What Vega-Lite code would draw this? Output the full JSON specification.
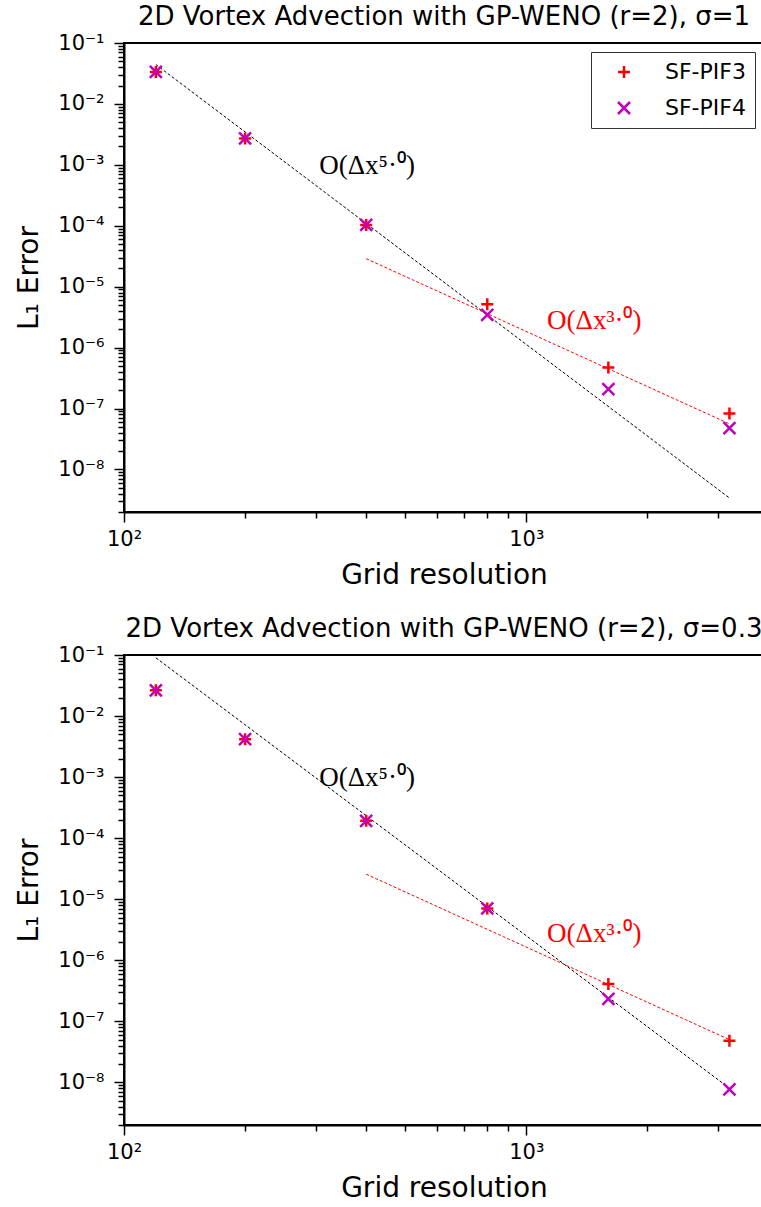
{
  "$schema": "https://vega.github.io/schema/vega-lite/v6.json",
  "background": "white",
  "padding": {"left": 14, "top": 3, "right": 0, "bottom": 0},
  "spacing": 143,
  "bounds": "flush",
  "config": {
    "view": {"stroke": "black", "strokeWidth": 2},
    "axis": {
      "grid": false,
      "domainColor": "black",
      "domainWidth": 2,
      "tickColor": "black",
      "tickWidth": 1.5,
      "labelColor": "black",
      "labelFont": "DejaVu Sans",
      "labelFontSize": 21,
      "titleFont": "DejaVu Sans",
      "titleFontSize": 28,
      "titleFontWeight": "normal",
      "titleColor": "black",
      "labelFlush": false,
      "labelOverlap": false
    },
    "title": {"font": "DejaVu Sans", "fontSize": 26, "fontWeight": "normal", "color": "black", "offset": 2, "anchor": "middle"},
    "legend": {
      "orient": "top-right",
      "offset": 9,
      "strokeColor": "#333333",
      "fillColor": "white",
      "padding": 9,
      "cornerRadius": 0,
      "labelFont": "DejaVu Sans",
      "labelFontSize": 22,
      "labelColor": "black",
      "symbolSize": 144,
      "symbolStrokeWidth": 2.5,
      "symbolOffset": 13,
      "labelOffset": 30,
      "rowPadding": 14
    }
  },
  "vconcat": [
    {
      "width": 640,
      "height": 469,
      "title": {"text": "2D Vortex Advection with GP-WENO (r=2), σ=1"},
      "resolve": {"axis": {"x": "independent", "y": "independent"}},
      "layer": [
        {"data": {"values": [{"x": 120, "y": 0.0443}, {"x": 3200, "y": 3.4e-9}]},
          "mark": {"type": "line", "color": "black", "strokeWidth": 1, "strokeDash": [3, 2]},
          "encoding": {
            "x": {"field": "x", "type": "quantitative", "title": "Grid resolution",
              "scale": {"type": "log", "domain": [100, 3900], "nice": false},
              "axis": {"orient": "bottom", "values": [100, 1000], "tickSize": 10, "labelPadding": 6, "titlePadding": 12,
                "labelExpr": "'10' + ['⁰','¹','²','³','⁴','⁵','⁶','⁷','⁸','⁹'][round(log(datum.value)/LN10)]"}},
            "y": {"field": "y", "type": "quantitative", "title": "L₁ Error",
              "scale": {"type": "log", "domain": [2e-9, 0.1], "nice": false},
              "axis": {"orient": "left", "values": [1e-8, 1e-7, 1e-6, 1e-5, 1e-4, 1e-3, 1e-2, 1e-1], "tickSize": 10, "labelPadding": 10, "titlePadding": 14,
                "labelExpr": "'10⁻' + ['⁰','¹','²','³','⁴','⁵','⁶','⁷','⁸','⁹'][abs(round(log(datum.value)/LN10))]"}}
          }},
        {"data": {"values": [{"x": 400, "y": 2.88e-5}, {"x": 3200, "y": 5.6e-8}]},
          "mark": {"type": "line", "color": "#ff0000", "strokeWidth": 1, "strokeDash": [3, 2]},
          "encoding": {
            "x": {"field": "x", "type": "quantitative", "axis": null},
            "y": {"field": "y", "type": "quantitative", "axis": null}
          }},
        {"data": {"values": [
            {"series": "SF-PIF3", "x": 120, "y": 0.0335},
            {"series": "SF-PIF3", "x": 200, "y": 0.00271},
            {"series": "SF-PIF3", "x": 400, "y": 0.000103},
            {"series": "SF-PIF3", "x": 800, "y": 5.14e-6},
            {"series": "SF-PIF3", "x": 1600, "y": 4.7e-7},
            {"series": "SF-PIF3", "x": 3200, "y": 8.28e-8},
            {"series": "SF-PIF4", "x": 120, "y": 0.0335},
            {"series": "SF-PIF4", "x": 200, "y": 0.00271},
            {"series": "SF-PIF4", "x": 400, "y": 0.000103},
            {"series": "SF-PIF4", "x": 800, "y": 3.44e-6},
            {"series": "SF-PIF4", "x": 1600, "y": 2.08e-7},
            {"series": "SF-PIF4", "x": 3200, "y": 4.77e-8}
          ]},
          "mark": {"type": "point", "filled": false, "strokeWidth": 2.5, "size": 144, "opacity": 1},
          "encoding": {
            "x": {"field": "x", "type": "quantitative", "title": null,
              "axis": {"orient": "bottom", "values": [200, 300, 400, 500, 600, 700, 800, 900, 2000, 3000], "tickSize": 6, "labels": false, "domain": false}},
            "y": {"field": "y", "type": "quantitative", "title": null,
              "axis": {"orient": "left", "values": [2e-9,3e-9,4e-9,5e-9,6e-9,7e-9,8e-9,9e-9,2e-8,3e-8,4e-8,5e-8,6e-8,7e-8,8e-8,9e-8,2e-7,3e-7,4e-7,5e-7,6e-7,7e-7,8e-7,9e-7,2e-6,3e-6,4e-6,5e-6,6e-6,7e-6,8e-6,9e-6,2e-5,3e-5,4e-5,5e-5,6e-5,7e-5,8e-5,9e-5,2e-4,3e-4,4e-4,5e-4,6e-4,7e-4,8e-4,9e-4,2e-3,3e-3,4e-3,5e-3,6e-3,7e-3,8e-3,9e-3,2e-2,3e-2,4e-2,5e-2,6e-2,7e-2,8e-2,9e-2], "tickSize": 6, "labels": false, "domain": false}},
            "color": {"field": "series", "type": "nominal", "scale": {"domain": ["SF-PIF3", "SF-PIF4"], "range": ["#ff0000", "#bf00bf"]}, "legend": {"title": null}},
            "shape": {"field": "series", "type": "nominal", "scale": {"domain": ["SF-PIF3", "SF-PIF4"], "range": ["M-1,0L1,0M0,-1L0,1", "M-1,-1L1,1M-1,1L1,-1"]}, "legend": {"title": null}}
          }},
        {"data": {"values": [{"x": 402, "y": 0.00095, "label": "O(Δx⁵·⁰)"}]},
          "mark": {"type": "text", "font": "Liberation Serif", "fontSize": 27, "color": "black", "align": "center", "baseline": "middle"},
          "encoding": {
            "x": {"field": "x", "type": "quantitative", "axis": null},
            "y": {"field": "y", "type": "quantitative", "axis": null},
            "text": {"field": "label"}}},
        {"data": {"values": [{"x": 1476, "y": 2.74e-6, "label": "O(Δx³·⁰)"}]},
          "mark": {"type": "text", "font": "Liberation Serif", "fontSize": 27, "color": "#ff0000", "align": "center", "baseline": "middle"},
          "encoding": {
            "x": {"field": "x", "type": "quantitative", "axis": null},
            "y": {"field": "y", "type": "quantitative", "axis": null},
            "text": {"field": "label"}}}
      ]
    },
    {
      "width": 640,
      "height": 470,
      "title": {"text": "2D Vortex Advection with GP-WENO (r=2), σ=0.3"},
      "resolve": {"axis": {"x": "independent", "y": "independent"}},
      "layer": [
        {"data": {"values": [{"x": 120, "y": 0.09}, {"x": 3200, "y": 8.0e-9}]},
          "mark": {"type": "line", "color": "black", "strokeWidth": 1, "strokeDash": [3, 2]},
          "encoding": {
            "x": {"field": "x", "type": "quantitative", "title": "Grid resolution",
              "scale": {"type": "log", "domain": [100, 3900], "nice": false},
              "axis": {"orient": "bottom", "values": [100, 1000], "tickSize": 10, "labelPadding": 6, "titlePadding": 12,
                "labelExpr": "'10' + ['⁰','¹','²','³','⁴','⁵','⁶','⁷','⁸','⁹'][round(log(datum.value)/LN10)]"}},
            "y": {"field": "y", "type": "quantitative", "title": "L₁ Error",
              "scale": {"type": "log", "domain": [2e-9, 0.1], "nice": false},
              "axis": {"orient": "left", "values": [1e-8, 1e-7, 1e-6, 1e-5, 1e-4, 1e-3, 1e-2, 1e-1], "tickSize": 10, "labelPadding": 10, "titlePadding": 14,
                "labelExpr": "'10⁻' + ['⁰','¹','²','³','⁴','⁵','⁶','⁷','⁸','⁹'][abs(round(log(datum.value)/LN10))]"}}
          }},
        {"data": {"values": [{"x": 400, "y": 2.57e-5}, {"x": 3200, "y": 5.0e-8}]},
          "mark": {"type": "line", "color": "#ff0000", "strokeWidth": 1, "strokeDash": [3, 2]},
          "encoding": {
            "x": {"field": "x", "type": "quantitative", "axis": null},
            "y": {"field": "y", "type": "quantitative", "axis": null}
          }},
        {"data": {"values": [
            {"series": "SF-PIF3", "x": 120, "y": 0.0264},
            {"series": "SF-PIF3", "x": 200, "y": 0.00417},
            {"series": "SF-PIF3", "x": 400, "y": 0.000192},
            {"series": "SF-PIF3", "x": 800, "y": 7.05e-6},
            {"series": "SF-PIF3", "x": 1600, "y": 4.08e-7},
            {"series": "SF-PIF3", "x": 3200, "y": 4.8e-8},
            {"series": "SF-PIF4", "x": 120, "y": 0.0264},
            {"series": "SF-PIF4", "x": 200, "y": 0.00417},
            {"series": "SF-PIF4", "x": 400, "y": 0.000192},
            {"series": "SF-PIF4", "x": 800, "y": 7.05e-6},
            {"series": "SF-PIF4", "x": 1600, "y": 2.32e-7},
            {"series": "SF-PIF4", "x": 3200, "y": 7.7e-9}
          ]},
          "mark": {"type": "point", "filled": false, "strokeWidth": 2.5, "size": 144, "opacity": 1},
          "encoding": {
            "x": {"field": "x", "type": "quantitative", "title": null,
              "axis": {"orient": "bottom", "values": [200, 300, 400, 500, 600, 700, 800, 900, 2000, 3000], "tickSize": 6, "labels": false, "domain": false}},
            "y": {"field": "y", "type": "quantitative", "title": null,
              "axis": {"orient": "left", "values": [2e-9,3e-9,4e-9,5e-9,6e-9,7e-9,8e-9,9e-9,2e-8,3e-8,4e-8,5e-8,6e-8,7e-8,8e-8,9e-8,2e-7,3e-7,4e-7,5e-7,6e-7,7e-7,8e-7,9e-7,2e-6,3e-6,4e-6,5e-6,6e-6,7e-6,8e-6,9e-6,2e-5,3e-5,4e-5,5e-5,6e-5,7e-5,8e-5,9e-5,2e-4,3e-4,4e-4,5e-4,6e-4,7e-4,8e-4,9e-4,2e-3,3e-3,4e-3,5e-3,6e-3,7e-3,8e-3,9e-3,2e-2,3e-2,4e-2,5e-2,6e-2,7e-2,8e-2,9e-2], "tickSize": 6, "labels": false, "domain": false}},
            "color": {"field": "series", "type": "nominal", "scale": {"domain": ["SF-PIF3", "SF-PIF4"], "range": ["#ff0000", "#bf00bf"]}, "legend": {"title": null}},
            "shape": {"field": "series", "type": "nominal", "scale": {"domain": ["SF-PIF3", "SF-PIF4"], "range": ["M-1,0L1,0M0,-1L0,1", "M-1,-1L1,1M-1,1L1,-1"]}, "legend": {"title": null}}
          }},
        {"data": {"values": [{"x": 402, "y": 0.00097, "label": "O(Δx⁵·⁰)"}]},
          "mark": {"type": "text", "font": "Liberation Serif", "fontSize": 27, "color": "black", "align": "center", "baseline": "middle"},
          "encoding": {
            "x": {"field": "x", "type": "quantitative", "axis": null},
            "y": {"field": "y", "type": "quantitative", "axis": null},
            "text": {"field": "label"}}},
        {"data": {"values": [{"x": 1476, "y": 2.72e-6, "label": "O(Δx³·⁰)"}]},
          "mark": {"type": "text", "font": "Liberation Serif", "fontSize": 27, "color": "#ff0000", "align": "center", "baseline": "middle"},
          "encoding": {
            "x": {"field": "x", "type": "quantitative", "axis": null},
            "y": {"field": "y", "type": "quantitative", "axis": null},
            "text": {"field": "label"}}}
      ]
    }
  ]
}
